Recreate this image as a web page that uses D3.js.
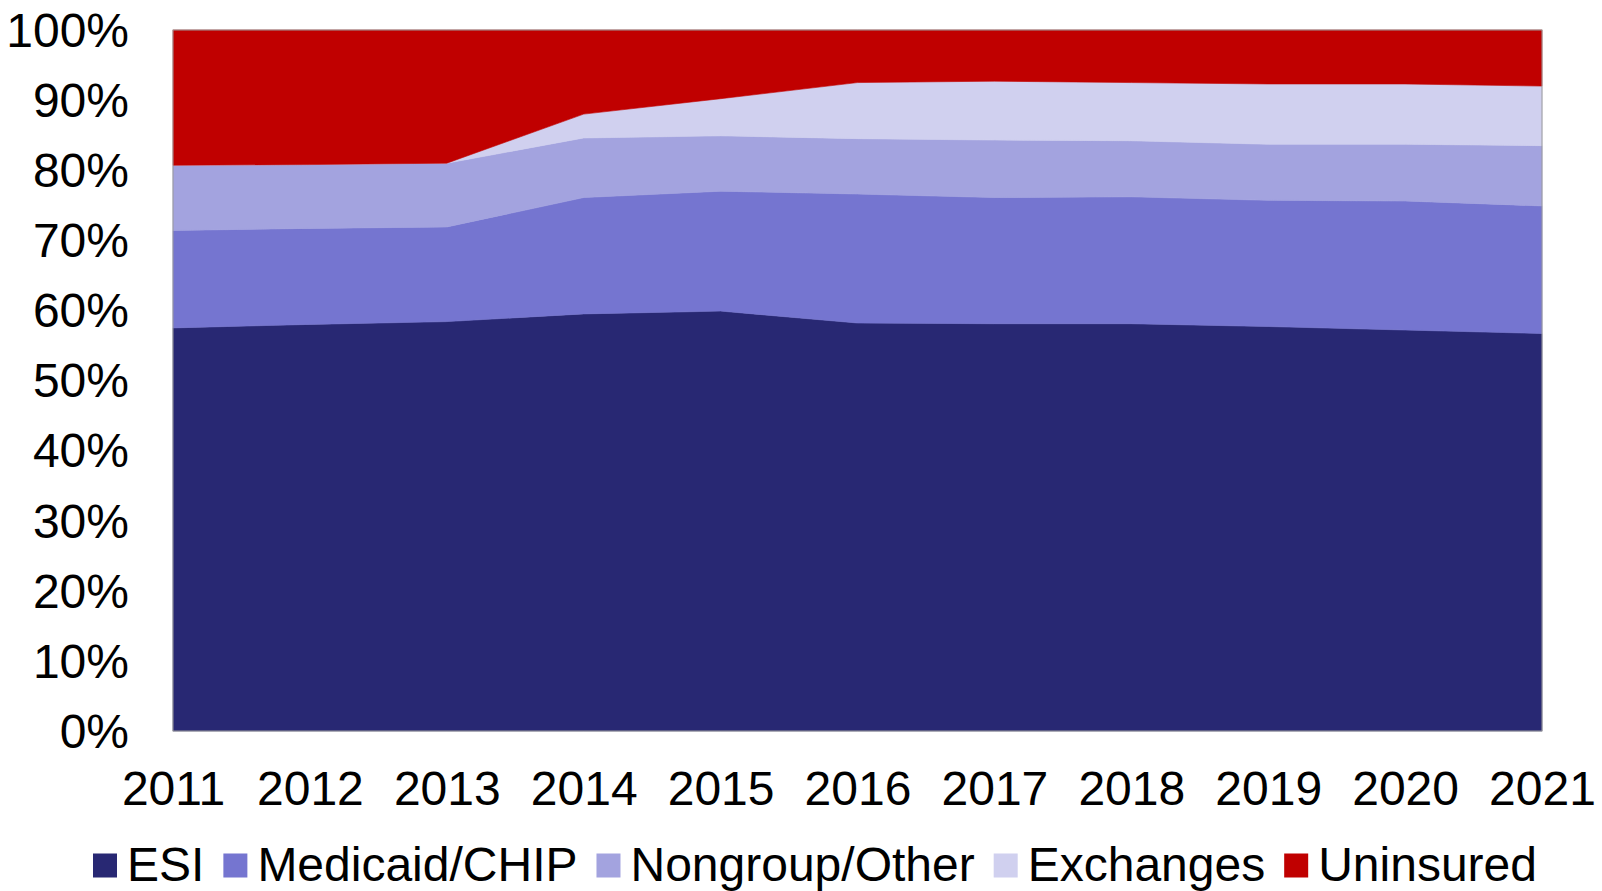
<!DOCTYPE html>
<html>
<head>
<meta charset="utf-8">
<script src="https://cdn.jsdelivr.net/npm/d3@7"></script>
<style>
  html, body { margin: 0; padding: 0; background: #ffffff; }
  svg { display: block; font-family: "Liberation Sans", Arial, sans-serif; }
</style>
</head>
<body>
<svg id="chart" width="1602" height="891"></svg>
<script>
const years = ["2011","2012","2013","2014","2015","2016","2017","2018","2019","2020","2021"];
const seriesNames = ["ESI","Medicaid/CHIP","Nongroup/Other","Exchanges","Uninsured"];
const esi        = [57.5, 58.0, 58.4, 59.5, 59.9, 58.2, 58.1, 58.1, 57.7, 57.2, 56.7];
const medicaid   = [13.9, 13.7, 13.5, 16.6, 17.1, 18.4, 18.0, 18.1, 18.0, 18.4, 18.2];
const nongroup   = [ 9.3,  9.1,  9.1,  8.5,  7.9,  7.9,  8.2,  8.0,  8.0,  8.1,  8.6];
const exchanges  = [ 0.0,  0.0,  0.0,  3.4,  5.3,  8.0,  8.4,  8.3,  8.6,  8.6,  8.5];
const uninsured  = [19.3, 19.2, 19.0, 12.0,  9.8,  7.5,  7.3,  7.5,  7.7,  7.7,  8.0];
const yTicks = [0,10,20,30,40,50,60,70,80,90,100];
const colors = ["#282873","#7575D0","#A3A3DF","#D0D0EF","#C00000"];

const seriesValues = [esi, medicaid, nongroup, exchanges, uninsured];
const rows = years.map((y, i) => {
  const r = { year: y };
  seriesNames.forEach((n, k) => r[n] = seriesValues[k][i]);
  return r;
});

const svg = d3.select("#chart");
const W = 1602, H = 891;
const margin = { left: 173, right: W - 1542, top: 30, bottom: H - 731 };
const FONT = 48;

const x = d3.scalePoint().domain(years).range([margin.left, W - margin.right]);
const y = d3.scaleLinear().domain([0, 100]).range([H - margin.bottom, margin.top]);

const stacked = d3.stack().keys(seriesNames)(rows);

const area = d3.area()
  .x(d => x(d.data.year))
  .y0(d => y(d[0]))
  .y1(d => y(d[1]));

svg.append("g").selectAll("path")
  .data(stacked)
  .join("path")
  .attr("d", area)
  .attr("fill", (d, i) => colors[i])
  .attr("stroke", (d, i) => colors[i])
  .attr("stroke-width", 0.6);

// plot border
svg.append("rect")
  .attr("x", margin.left).attr("y", margin.top)
  .attr("width", W - margin.right - margin.left)
  .attr("height", (H - margin.bottom) - margin.top)
  .attr("fill", "none").attr("stroke", "#9a9a9a").attr("stroke-width", 1);

// Y axis
const yAxis = d3.axisLeft(y).tickValues(yTicks).tickFormat(d => d + "%").tickSize(0).tickPadding(0);
const gy = svg.append("g").attr("transform", `translate(129,0)`).call(yAxis);
gy.select(".domain").remove();
gy.selectAll("text").attr("font-size", FONT).attr("fill", "#000")
  .attr("font-family", "'Liberation Sans', Arial, sans-serif").attr("dy", "0.34em");

// X axis
const xAxis = d3.axisBottom(x).tickSize(0).tickPadding(0);
const gx = svg.append("g").attr("transform", `translate(0,${H - margin.bottom})`).call(xAxis);
gx.select(".domain").remove();
gx.selectAll("text").attr("font-size", FONT).attr("fill", "#000")
  .attr("font-family", "'Liberation Sans', Arial, sans-serif")
  .attr("dy", null).attr("y", 74);

// Legend
const legend = svg.append("g");
let lx = 93;
const sq = 24, legBase = 881;
seriesNames.forEach((n, i) => {
  legend.append("rect").attr("x", lx).attr("y", legBase - 27.5).attr("width", sq).attr("height", sq)
    .attr("fill", colors[i]);
  const t = legend.append("text").attr("x", lx + sq + 10).attr("y", legBase)
    .attr("font-size", FONT).attr("fill", "#000").text(n);
  const w = t.node().getComputedTextLength();
  lx = lx + sq + 10 + w + 19;
});
</script>
</body>
</html>
